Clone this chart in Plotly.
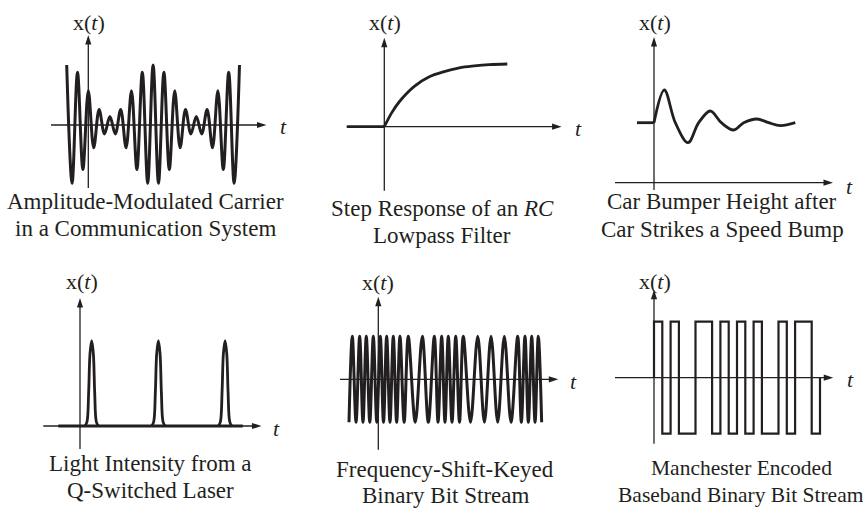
import plotly.graph_objects as go

# ---------------- data ----------------
# Amplitude-modulated carrier: successive extrema, one every half carrier period
am_half_period = 0.5
am_start = -2.0
am_extrema = [1.0, -0.97, 0.88, -0.74, 0.57, -0.38, 0.26, -0.15, 0.14, -0.15, 0.26,
              -0.38, 0.57, -0.74, 0.88, -0.97, 1.0, -0.97, 0.88, -0.74, 0.57, -0.38,
              0.26, -0.15, 0.14, -0.15, 0.26, -0.38, 0.57, -0.74, 0.88, -0.97, 1.0]

# Step response of an RC lowpass filter (t in time constants)
step_pre_t = [-1.25, 0.0]
step_pre_x = [0.0, 0.0]
step_t = [0.0, 0.25, 0.5, 1.0, 1.5, 2.0, 2.5, 3.0, 3.5, 4.1]
step_x = [0.0, 0.22, 0.39, 0.63, 0.78, 0.86, 0.92, 0.95, 0.97, 0.98]

# Car bumper height after a speed bump
car_pre_t = [-1.7, 0.0]
car_pre_x = [1.0, 1.0]
car_t = [0.0, 1.03, 2.13, 3.4, 4.47, 5.63, 6.73, 7.97, 8.97, 10.3, 11.47, 12.63, 14.13]
car_x = [1.0, 1.545, 1.0, 0.667, 1.0, 1.195, 1.0, 0.878, 1.0, 1.062, 1.0, 0.95, 1.0]

# Q-switched laser pulses
laser_base_t = [-0.325, 2.44]
laser_base_x = [0.0, 0.0]
laser_centers = [0.175, 1.175, 2.175]
pulse_offsets = [-0.1, -0.07, -0.045, -0.025, 0.0, 0.025, 0.045, 0.07, 0.1]
pulse_shape = [0.0, 0.05, 0.4, 0.85, 1.0, 0.85, 0.4, 0.05, 0.0]

# Frequency-shift-keyed bit stream: times of the positive and negative peaks
fsk_peaks = [-3.85, -2.76, -1.78, -0.74, 0.30, 1.24, 2.22, 3.21, 4.44, 6.52, 8.30,
             9.39, 10.37, 11.47, 12.59, 14.73, 16.70, 18.67, 20.65, 21.73, 22.73, 23.70]
fsk_troughs = [-4.34, -3.30, -2.27, -1.26, -0.22, 0.77, 1.73, 2.72, 3.83, 5.48, 7.41,
               8.85, 9.88, 10.92, 12.03, 13.66, 15.72, 17.69, 19.66, 21.19, 22.23, 23.22, 24.2]

# Manchester encoded bits (1 = high then low)
manchester_bits = [1, 1, 0, 1, 1, 1, 1, 0, 0, 1]

captions = [
    ["Amplitude-Modulated Carrier", "in a Communication System"],
    ["Step Response of an <i>RC</i>", "Lowpass Filter"],
    ["Car Bumper Height after", "Car Strikes a Speed Bump"],
    ["Light Intensity from a", "Q-Switched Laser"],
    ["Frequency-Shift-Keyed", "Binary Bit Stream"],
    ["Manchester Encoded", "Baseband Binary Bit Stream"],
]

# ---------------- layout / geometry ----------------
W, H = 863, 508
INK = "#231f20"
FONT = "Liberation Serif, Times New Roman, serif"

# origin pixel, pixels per unit, axis extents, label pixel positions
panels = [
    dict(ox=88.3, oy=125, sx=10.8, sy=60, t=(-3.45, 16.5), y=(-1.05, 1.5),
         tl=(283, 126), xl=(89, 22), cap=(145, 202, 228), fs=23),
    dict(ox=384.3, oy=126.7, sx=30, sy=64, t=(-1.25, 5.91), y=(-1.0, 1.39),
         tl=(578, 128), xl=(385, 22), cap=(442, 209, 235), fs=23),
    dict(ox=654, oy=182.7, sx=10, sy=60, t=(-3.9, 17.9), y=(-0.12, 2.43),
         tl=(849, 186), xl=(655, 22), cap=(722, 202, 229), fs=23),
    dict(ox=80, oy=426, sx=66.7, sy=85.3, t=(-0.55, 2.72), y=(-0.27, 1.5),
         tl=(276, 428), xl=(82, 281), cap=(150, 463, 490), fs=23),
    dict(ox=378.3, oy=379.3, sx=6.75, sy=43, t=(-5.67, 26.67), y=(-1.64, 1.92),
         tl=(573, 381), xl=(378, 282), cap=(445, 469, 495), fs=23),
    dict(ox=654, oy=377.7, sx=8.3, sy=56, t=(-4.7, 21.6), y=(-1.18, 1.57),
         tl=(850, 379), xl=(655, 281), cap=(741, 468, 495), fs=21.5),
]

fig = go.Figure()
layout = dict(width=W, height=H, margin=dict(l=0, r=0, t=0, b=0),
              paper_bgcolor="white", plot_bgcolor="rgba(0,0,0,0)",
              showlegend=False, annotations=[])


def ax_name(i, a):
    return a if i == 0 else f"{a}{i+1}"


def add(i, **kw):
    kw.setdefault("hoverinfo", "skip")
    fig.add_trace(go.Scatter(xaxis=ax_name(i, "x"), yaxis=ax_name(i, "y"), **kw))


for i, p in enumerate(panels):
    xr = [-p["ox"] / p["sx"], (W - p["ox"]) / p["sx"]]
    yr = [-(H - p["oy"]) / p["sy"], p["oy"] / p["sy"]]
    k = "" if i == 0 else str(i + 1)
    layout["xaxis" + k] = dict(domain=[0, 1], range=xr, visible=False, fixedrange=True,
                               anchor="y" + k)
    layout["yaxis" + k] = dict(domain=[0, 1], range=yr, visible=False, fixedrange=True,
                               anchor="x" + k)
    # axes with arrow heads
    t0, t1 = p["t"]
    y0, y1 = p["y"]
    back_t = 4 / p["sx"]
    back_y = 4 / p["sy"]
    add(i, x=[t0, t1 - back_t], y=[0, 0], mode="lines", line=dict(color=INK, width=1.3))
    add(i, x=[0, 0], y=[y0, y1 - back_y], mode="lines", line=dict(color=INK, width=1.3))
    add(i, x=[t1], y=[0], mode="markers",
        marker=dict(symbol="arrow", angle=90, size=10, color=INK, line=dict(width=0)))
    add(i, x=[0], y=[y1], mode="markers",
        marker=dict(symbol="arrow", angle=0, size=10, color=INK, line=dict(width=0)))
    # labels
    layout["annotations"].append(dict(
        xref="paper", yref="paper", x=p["xl"][0] / W, y=1 - p["xl"][1] / H,
        text="x(<i>t</i>)", showarrow=False, xanchor="center", yanchor="middle",
        font=dict(family=FONT, size=22, color=INK)))
    layout["annotations"].append(dict(
        xref="paper", yref="paper", x=p["tl"][0] / W, y=1 - p["tl"][1] / H,
        text="<i>t</i>", showarrow=False, xanchor="center", yanchor="middle",
        font=dict(family=FONT, size=22, color=INK)))
    cx, cy1, cy2 = p["cap"]
    for line_txt, cy in zip(captions[i], (cy1, cy2)):
        layout["annotations"].append(dict(
            xref="paper", yref="paper", x=cx / W, y=1 - cy / H,
            text=line_txt, showarrow=False, xanchor="center", yanchor="middle",
            font=dict(family=FONT, size=p["fs"], color=INK)))

SIG = dict(color=INK, width=3)

# 1. AM carrier
am_t = [am_start + am_half_period * n for n in range(len(am_extrema))]
add(0, x=am_t, y=am_extrema, mode="lines", line=dict(shape="spline", smoothing=1, **SIG))

# 2. RC step response
add(1, x=step_pre_t, y=step_pre_x, mode="lines", line=dict(color=INK, width=2.8))
add(1, x=step_t, y=step_x, mode="lines", line=dict(shape="spline", smoothing=1, color=INK, width=2.8))

# 3. car bumper
add(2, x=car_pre_t, y=car_pre_x, mode="lines", line=dict(color=INK, width=2.8))
add(2, x=car_t, y=car_x, mode="lines", line=dict(shape="spline", smoothing=1, color=INK, width=2.8))

# 4. laser pulses
add(3, x=laser_base_t, y=laser_base_x, mode="lines", line=dict(color=INK, width=3))
px, py = [], []
for c in laser_centers:
    px += [c + o for o in pulse_offsets] + [None]
    py += list(pulse_shape) + [None]
add(3, x=px, y=py, mode="lines", line=dict(shape="spline", smoothing=1, color=INK, width=2.8))

# 5. FSK
ev = sorted([(t, 1.0) for t in fsk_peaks] + [(t, -1.0) for t in fsk_troughs])
add(4, x=[e[0] for e in ev], y=[e[1] for e in ev], mode="lines",
    line=dict(shape="spline", smoothing=1, **SIG))

# 6. Manchester
levels = []
for b in manchester_bits:
    levels += [1, -1] if b == 1 else [-1, 1]
mt = [0] + list(range(len(levels))) + [len(levels)]
my = [0] + levels + [0]
add(5, x=mt, y=my, mode="lines", line=dict(shape="hv", color=INK, width=2.2))

fig.update_layout(**layout)
fig.write_html("out.html", config={"displayModeBar": False},
               post_script="document.body.style.margin='0';document.body.style.overflow='hidden';")
